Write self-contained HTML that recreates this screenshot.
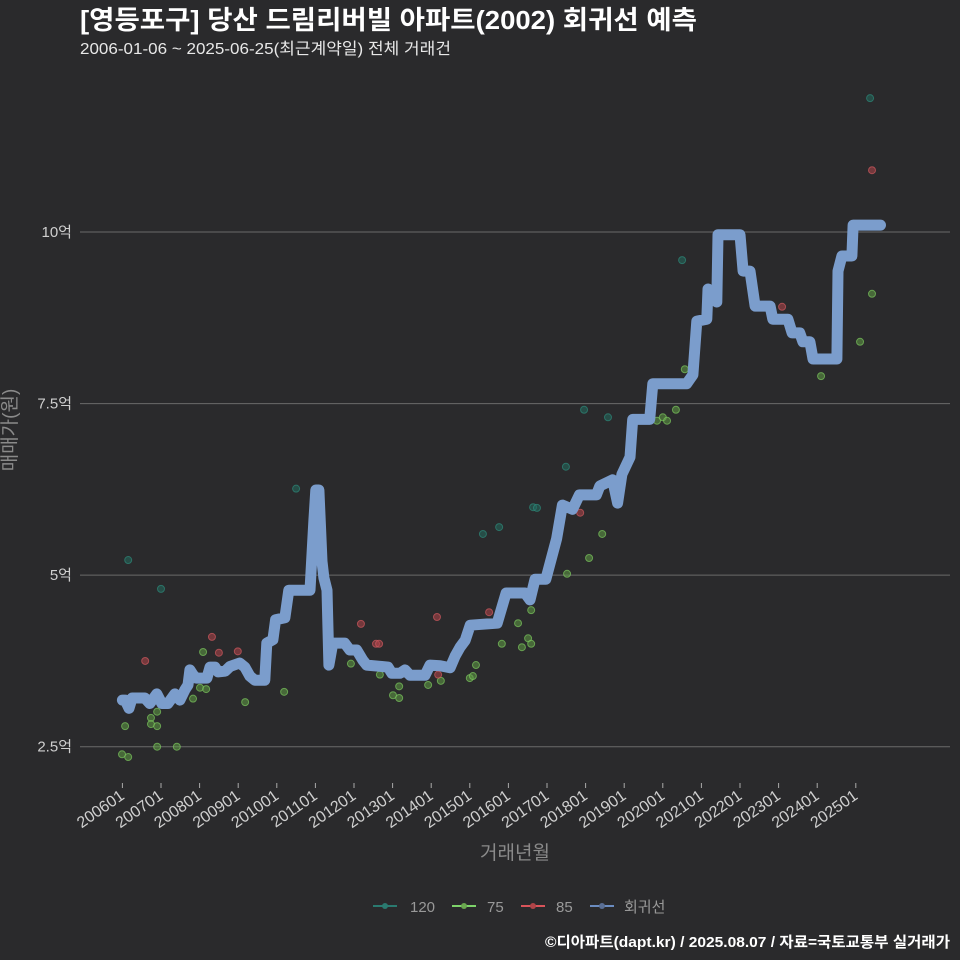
<!DOCTYPE html>
<html><head><meta charset="utf-8"><style>
body{margin:0;background:#2a2a2c;}
svg{display:block;font-family:"Liberation Sans","Noto Sans CJK KR",sans-serif;}
</style></head><body>
<svg id="c" width="960" height="960" viewBox="0 0 960 960">
<rect x="0" y="0" width="960" height="960" fill="#2a2a2c"/>
<text x="80" y="29" fill="#ffffff" font-size="26" font-weight="bold" textLength="617" lengthAdjust="spacingAndGlyphs">[영등포구] 당산 드림리버빌 아파트(2002) 회귀선 예측</text>
<text x="80" y="54" fill="#e8e8e8" font-size="16" textLength="371" lengthAdjust="spacingAndGlyphs">2006-01-06 ~ 2025-06-25(최근계약일) 전체 거래건</text>
<g id="grid"></g>
<g id="yticks"></g>
<g id="xticks"></g>
<g id="pts"></g>
<path id="reg" fill="none" stroke="#7b9dcc" stroke-width="11" stroke-linejoin="round" stroke-linecap="round"/>
<text x="16" y="430" fill="#8a8a8a" font-size="19" text-anchor="middle" transform="rotate(-90 16 430)">매매가(원)</text>
<text x="515" y="859" fill="#8a8a8a" font-size="19" text-anchor="middle">거래년월</text>
<g font-size="15" fill="#999">
<g><line x1="373" y1="906" x2="397" y2="906" stroke="#2a7a70" stroke-width="2"/><circle cx="385" cy="906" r="3" fill="#2a7a70"/><text x="410" y="912">120</text></g>
<g><line x1="452" y1="906" x2="476" y2="906" stroke="#7dd36a" stroke-width="2"/><circle cx="464" cy="906" r="3" fill="#6aa84f"/><text x="487" y="912">75</text></g>
<g><line x1="521" y1="906" x2="545" y2="906" stroke="#d9545a" stroke-width="2"/><circle cx="533" cy="906" r="3" fill="#b04448"/><text x="556" y="912">85</text></g>
<g><line x1="590" y1="906" x2="614" y2="906" stroke="#6b8cc0" stroke-width="2"/><circle cx="602" cy="906" r="3" fill="#5a6f95"/><text x="624" y="912">회귀선</text></g>
</g>
<text x="950" y="947" fill="#ffffff" font-size="15" font-weight="bold" text-anchor="end" textLength="405" lengthAdjust="spacingAndGlyphs">©디아파트(dapt.kr) / 2025.08.07 / 자료=국토교통부 실거래가</text>
</svg>
<script>
const yTickVals=[2.5,5,7.5,10];
const yTickLabels=["2.5억","5억","7.5억","10억"];
const xTickYears=[2006,2007,2008,2009,2010,2011,2012,2013,2014,2015,2016,2017,2018,2019,2020,2021,2022,2023,2024,2025];
const xTickLabels=["200601","200701","200801","200901","201001","201101","201201","201301","201401","201501","201601","201701","201801","201901","202001","202101","202201","202301","202401","202501"];
const regYears=[2006.00,2006.07,2006.17,2006.25,2006.58,2006.71,2006.89,2007.02,2007.18,2007.36,2007.49,2007.62,2007.70,2007.75,2007.83,2007.91,2008.19,2008.27,2008.40,2008.48,2008.66,2008.79,2009.04,2009.17,2009.30,2009.43,2009.69,2009.74,2009.90,2009.97,2010.21,2010.31,2010.86,2010.96,2011.01,2011.09,2011.17,2011.22,2011.30,2011.35,2011.45,2011.76,2011.89,2012.07,2012.23,2012.33,2012.88,2012.98,2013.19,2013.32,2013.45,2013.84,2013.97,2014.23,2014.49,2014.62,2014.75,2014.88,2015.01,2015.71,2015.94,2016.43,2016.56,2016.69,2016.97,2017.25,2017.40,2017.66,2017.84,2018.28,2018.37,2018.70,2018.83,2018.94,2019.15,2019.22,2019.66,2019.74,2020.62,2020.78,2020.88,2021.14,2021.17,2021.40,2021.43,2022.00,2022.08,2022.26,2022.39,2022.78,2022.85,2023.24,2023.35,2023.55,2023.63,2023.81,2023.89,2024.51,2024.54,2024.64,2024.90,2024.93,2025.64];
const regValues=[3.18,3.18,3.06,3.21,3.21,3.13,3.27,3.13,3.13,3.27,3.18,3.33,3.40,3.62,3.55,3.50,3.50,3.66,3.66,3.59,3.60,3.67,3.72,3.66,3.53,3.47,3.47,4.01,4.06,4.35,4.38,4.78,4.78,5.80,6.24,6.24,5.20,4.96,4.78,3.69,4.01,4.01,3.91,3.91,3.76,3.69,3.66,3.57,3.57,3.62,3.54,3.54,3.69,3.68,3.65,3.82,3.95,4.05,4.27,4.30,4.74,4.74,4.64,4.94,4.94,5.53,6.02,5.96,6.17,6.17,6.30,6.39,6.05,6.47,6.72,7.27,7.27,7.79,7.79,7.92,8.70,8.73,9.17,8.98,9.96,9.96,9.43,9.43,8.92,8.92,8.73,8.73,8.53,8.53,8.40,8.40,8.15,8.15,9.43,9.65,9.65,10.10,10.10];
const s120Years=[2006.15,2007.00,2010.50,2015.34,2015.76,2016.64,2016.74,2017.49,2017.96,2018.58,2020.50,2025.37];
const s120Values=[5.22,4.80,6.26,5.60,5.70,5.99,5.98,6.58,7.41,7.30,9.59,11.95];
const s75Years=[2005.99,2006.15,2006.07,2006.74,2006.90,2006.74,2006.90,2006.90,2007.41,2007.83,2008.01,2008.17,2008.09,2009.18,2010.19,2011.92,2012.67,2013.01,2013.17,2013.17,2013.92,2014.25,2015.00,2015.08,2015.16,2015.83,2016.25,2016.35,2016.51,2016.59,2016.59,2017.52,2018.09,2018.43,2019.85,2020.00,2020.11,2020.34,2020.57,2024.10,2025.11,2025.42];
const s75Values=[2.39,2.35,2.80,2.92,2.50,2.83,3.01,2.80,2.50,3.20,3.36,3.34,3.88,3.15,3.30,3.71,3.55,3.25,3.21,3.38,3.40,3.46,3.50,3.53,3.69,4.00,4.30,3.95,4.08,4.00,4.49,5.02,5.25,5.60,7.25,7.30,7.25,7.41,8.00,7.90,8.40,9.10];
const s85Years=[2006.59,2008.32,2008.50,2008.99,2012.18,2012.57,2012.65,2014.15,2014.18,2015.50,2017.86,2023.09,2025.42];
const s85Values=[3.75,4.10,3.87,3.89,4.29,4.00,4.00,4.39,3.55,4.46,5.91,8.91,10.90];

const NS="http://www.w3.org/2000/svg";
function xScale(yr){return 122.4+(yr-2006)*38.6;}
function yScale(v){return 232+(10-v)*68.63;}
function mk(tag,attrs,parent){const e=document.createElementNS(NS,tag);for(const k in attrs)e.setAttribute(k,attrs[k]);parent.appendChild(e);return e;}

const grid=document.getElementById('grid'),yt=document.getElementById('yticks'),xt=document.getElementById('xticks');
yTickVals.forEach((v,i)=>{
  const l=mk('line',{x1:80,x2:950,y1:yScale(v),y2:yScale(v),stroke:'#6a6a6a','stroke-width':1},grid);
  
  
  const t=mk('text',{x:72,y:yScale(v)+5,fill:'#cfcfcf','font-size':15,'text-anchor':'end'},yt);
  t.textContent=yTickLabels[i];
  
  
});
xTickYears.forEach((yr,i)=>{
  const x=xScale(yr);
  const tk=mk('line',{x1:x,x2:x,y1:783,y2:788,stroke:'#aaa','stroke-width':1},xt);
  
  
  const t=mk('text',{x:x+3,y:798,fill:'#cfcfcf','font-size':16,'text-anchor':'end',transform:`rotate(-35 ${x+3} 798)`},xt);
  t.textContent=xTickLabels[i];
  
  
});
const pts=document.getElementById('pts');
function series(ys,vs,fill,stroke,name){
  ys.forEach((yr,i)=>{
    const c=mk('circle',{cx:xScale(yr),cy:yScale(vs[i]),r:3.5,fill:fill,stroke:stroke,'stroke-width':1,'fill-opacity':0.55,'stroke-opacity':0.7},pts);
    
    
  });
}
series(s75Years,s75Values,'#5e9a46','#7cc85e','point-75');
series(s85Years,s85Values,'#b0444a','#d05a60','point-85');
series(s120Years,s120Values,'#236a5e','#2e8a7a','point-120');
document.getElementById('reg').setAttribute('d',regYears.map((yr,i)=>(i?'L':'M')+xScale(yr).toFixed(1)+' '+yScale(regValues[i]).toFixed(1)).join(' '));
</script>
</body></html>
